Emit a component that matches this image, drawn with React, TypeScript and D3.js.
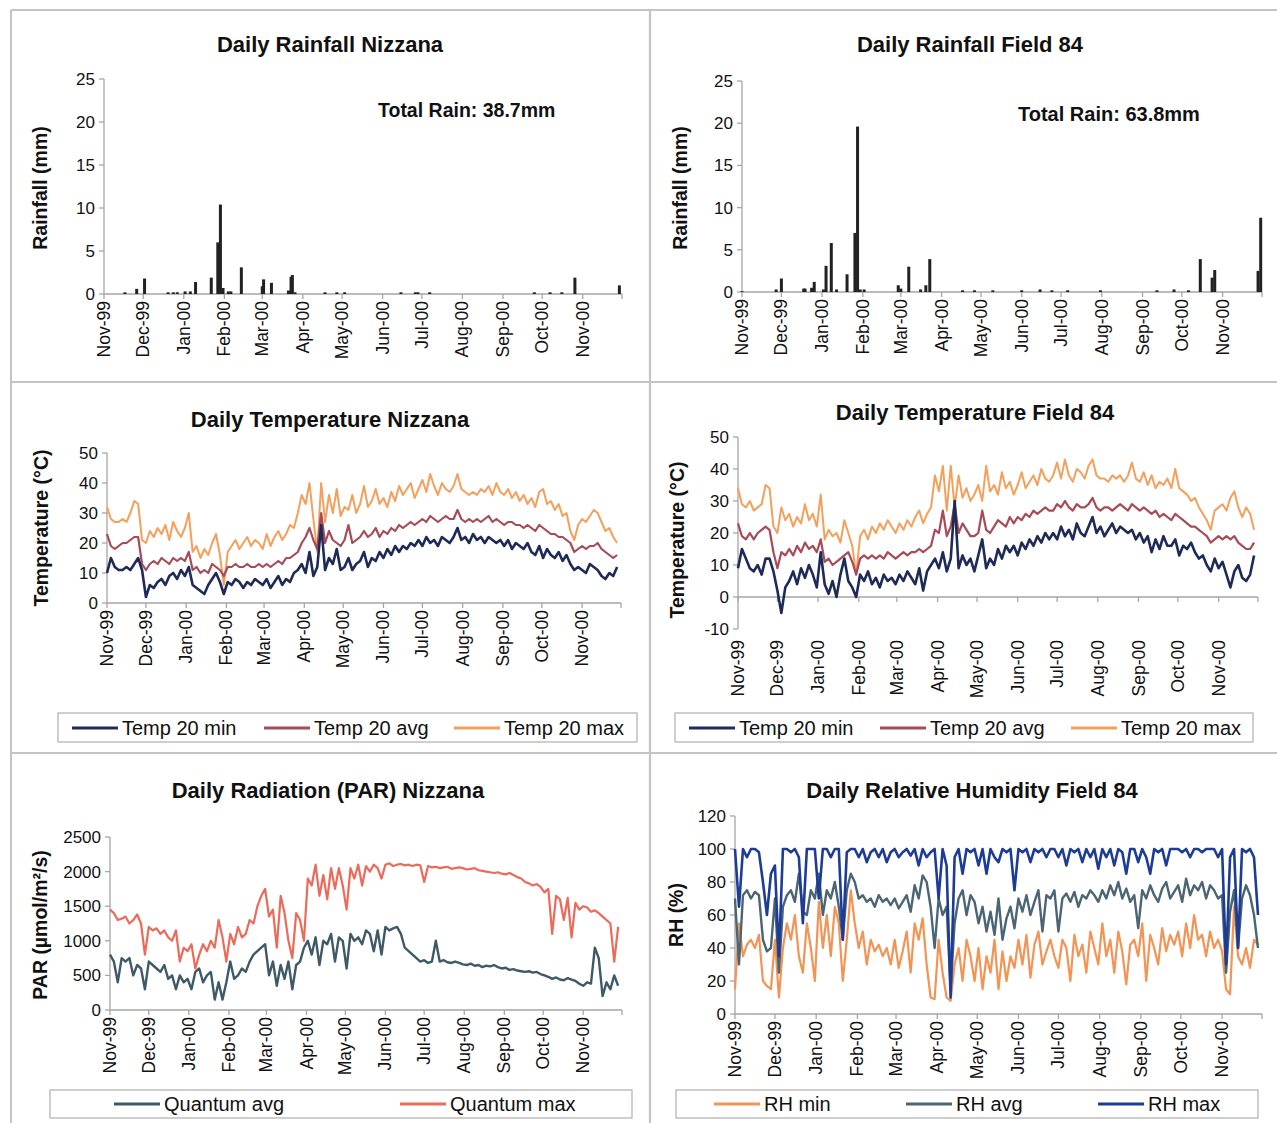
import React, { useEffect } from "react";
import * as d3 from "d3";

// ---------- DATA ----------
const START = new Date(Date.UTC(1999, 10, 1));
const END = new Date(Date.UTC(2000, 11, 1));
const STEP = 3; // days between sampled values

// rainfall events: [day since 1 Nov 1999, mm]
const rainNizzana: [number, number][] = [
  [16, 0.2], [25, 0.6], [31, 1.8], [49, 0.2], [53, 0.2], [56, 0.2], [62, 0.3], [66, 0.3], [70, 1.4],
  [82, 1.9], [87, 6.0], [89, 10.4], [91, 0.7], [95, 0.3], [97, 0.3], [105, 3.1], [121, 0.9], [122, 1.7],
  [128, 1.3], [141, 0.4], [143, 2.0], [144, 2.2], [146, 0.2], [169, 0.2], [178, 0.2], [184, 0.2],
  [227, 0.2], [238, 0.2], [240, 0.2], [249, 0.2], [329, 0.2], [341, 0.2], [350, 0.2], [360, 1.9], [394, 1.0],
];
const rainField84: [number, number][] = [
  [0, 0.1], [26, 0.3], [30, 1.6], [47, 0.4], [48, 0.4], [53, 0.5], [55, 1.2], [62, 0.3], [64, 3.1],
  [68, 5.8], [72, 0.3], [80, 2.1], [86, 7.0], [88, 19.6], [90, 0.3], [93, 0.3], [119, 0.8], [121, 0.4],
  [127, 3.0], [136, 0.3], [140, 0.8], [143, 3.9], [168, 0.2], [177, 0.2], [191, 0.2], [213, 0.2],
  [227, 0.3], [236, 0.2], [248, 0.2], [273, 0.2], [316, 0.2], [329, 0.3], [340, 0.2], [349, 3.9],
  [358, 1.7], [360, 2.6], [393, 2.5], [395, 8.8],
];

// Nizzana temperature (°C), every 3 days
const nizTmax = [
  32, 28, 27, 27, 28, 27, 30, 34, 33, 21,
  20, 24, 22, 25, 23, 26, 21, 27, 24, 22,
  25, 30, 17, 19, 15, 18, 16, 20, 23, 16,
  6, 17, 19, 21, 18, 20, 22, 19, 21, 20,
  18, 23, 19, 22, 24, 21, 23, 26, 25, 30,
  36, 33, 40, 28, 17, 40, 27, 36, 30, 38,
  29, 32, 31, 36, 30, 33, 39, 32, 34, 38,
  33, 35, 32, 37, 34, 39, 36, 38, 40, 35,
  38, 41, 37, 43, 39, 36, 40, 38, 37, 39,
  43, 38, 37, 36, 37, 36, 38, 37, 39, 36,
  40, 37, 36, 38, 35, 37, 34, 36, 33, 35,
  32, 37, 38, 33, 34, 31, 33, 29, 30, 24,
  21, 26, 28, 27, 29, 31, 30, 27, 24, 25,
  22, 20,
];
const nizTavg = [
  23, 19, 18, 19, 20, 20, 21, 22, 22, 13,
  11, 13, 14, 13, 15, 14, 13, 15, 14, 15,
  14, 17, 11, 12, 10, 11, 10, 13, 12, 11,
  9, 12, 12, 13, 12, 12, 13, 12, 12, 13,
  12, 13, 12, 13, 14, 13, 15, 15, 16, 17,
  20, 22, 25, 21, 18, 30, 20, 24, 21, 20,
  19, 21, 26, 20, 21, 22, 24, 22, 23, 25,
  22, 24, 23, 25, 24, 26, 25, 26, 27, 26,
  27, 28, 27, 29, 28, 27, 28, 29, 28, 28,
  31, 28, 27, 28, 27, 28, 27, 28, 29, 27,
  28, 27, 26, 27, 27, 26, 26, 25, 26, 25,
  24, 26, 25, 24, 23, 23, 22, 22, 21, 20,
  17, 18, 19, 18, 19, 19, 20, 18, 17, 16,
  15, 16,
];
const nizTmin = [
  10, 15, 12, 11, 11, 12, 11, 13, 15, 11,
  2, 6, 5, 7, 8, 6, 9, 10, 8, 11,
  9, 12, 6, 5, 4, 3, 6, 8, 10, 7,
  3, 7, 6, 8, 7, 5, 7, 6, 8, 7,
  6, 8, 5, 7, 9, 6, 8, 7, 10, 11,
  13, 10, 17, 9, 12, 26, 11, 15, 13, 18,
  11, 12, 15, 11, 13, 14, 17, 12, 15, 14,
  17, 15, 18, 16, 19, 17, 19, 18, 20, 19,
  21, 19, 22, 20, 21, 19, 22, 21, 20, 22,
  25, 21, 22, 20, 23, 21, 22, 20, 22, 21,
  20, 21, 19, 21, 18, 20, 19, 18, 20, 17,
  16, 19, 15, 18, 16, 15, 17, 14, 16, 13,
  11, 12, 11, 10, 13, 12, 11, 9, 8, 10,
  9, 12,
];

// Field 84 temperature (°C), every 3 days
const f84Tmax = [
  34, 29, 28, 30, 27, 28, 29, 35, 34, 22,
  20, 28, 24, 26, 22, 25, 23, 29, 24, 26,
  22, 32, 18, 21, 19, 20, 17, 24, 20, 16,
  7, 19, 21, 18, 22, 20, 23, 21, 24, 22,
  20, 23, 21, 24, 22, 25, 27, 23, 26, 28,
  38, 33, 41, 27, 41, 28, 38, 31, 34, 30,
  32, 35, 30, 41, 33, 35, 32, 39, 34, 36,
  32, 35, 39, 34, 36, 38, 35, 40, 37, 36,
  38, 42, 37, 43, 38, 36, 40, 39, 37, 41,
  43, 38, 37, 37, 36, 38, 37, 38, 36, 38,
  42, 37, 36, 39, 35, 38, 34, 36, 35, 37,
  34, 40, 34, 33, 32, 30, 31, 28, 26, 24,
  21, 27, 28, 29, 27, 31, 33, 28, 25, 28,
  26, 21,
];
const f84Tavg = [
  23, 19, 18, 20, 18, 20, 21, 22, 21, 14,
  9, 14, 13, 15, 13, 16, 14, 17, 15, 16,
  14, 18, 11, 12, 10, 11, 12, 13, 14, 11,
  7, 12, 13, 12, 13, 12, 13, 12, 14, 13,
  12, 13, 14, 13, 14, 14, 15, 14, 15, 16,
  21, 20, 27, 19, 22, 29, 20, 23, 21, 19,
  19, 20, 27, 21, 20, 22, 24, 23, 22, 25,
  23, 25, 24, 26, 25, 27, 26, 27, 28, 27,
  27, 29, 28, 30, 28, 27, 29, 28, 28, 29,
  31, 28, 27, 28, 28, 27, 28, 29, 28, 27,
  29, 28, 27, 28, 27, 26, 27, 25, 26, 25,
  24, 26, 25, 24, 23, 22, 22, 21, 20, 19,
  17, 18, 19, 18, 19, 18, 19, 17, 16, 15,
  15, 17,
];
const f84Tmin = [
  9, 15, 12, 9, 8, 10, 7, 12, 12, 8,
  2, -5, 3, 5, 8, 4, 9, 6, 10, 7,
  3, 14, 4, 1, 5, 0, 7, 12, 5, 3,
  0, 7, 5, 8, 4, 6, 3, 7, 5, 6,
  4, 7, 5, 8, 6, 4, 9, 2, 8, 10,
  12, 9, 14, 8, 12, 30, 9, 13, 10, 12,
  8, 13, 18, 9, 12, 10, 15, 12, 16, 14,
  16, 13, 17, 15, 18, 16, 19, 17, 20, 18,
  20, 18, 22, 19, 21, 18, 23, 20, 19, 22,
  25, 20, 22, 19, 21, 23, 20, 22, 21, 20,
  21, 18, 20, 17, 19, 14, 18, 15, 19, 16,
  16, 18, 13, 16, 15, 17, 14, 12, 13, 10,
  8, 12, 9, 11, 7, 3, 8, 10, 6, 5,
  7, 13,
];

// PAR Nizzana (µmol/m²/s), every 3 days
const parMax = [
  1450, 1400, 1300, 1320, 1350, 1250, 1300, 1380, 1250, 800,
  1200, 1150, 1180, 1100, 1150, 1050, 1000, 1150, 700, 900,
  850, 950, 600, 800, 950, 850, 1000, 900, 1300, 1050,
  700, 1100, 950, 1200, 1050, 1100, 1300, 1250, 1500, 1650,
  1750, 1350, 1450, 900, 1650, 1400, 1000, 750, 1400, 1300,
  1000, 1900, 1800, 2100, 1650, 1950, 1600, 2050, 1750, 2050,
  1800, 1450, 2050, 1900, 2100, 1800, 2080, 2000, 2100, 2050,
  1900, 2100, 2120, 2080, 2100, 2110, 2090, 2100, 2080, 2100,
  2090, 1850, 2080, 2060, 2070, 2050, 2060, 2070, 2040, 2050,
  2060, 2050, 2030, 2040, 2050, 2020, 2010, 2000, 1990, 1980,
  1990, 1970, 1960, 1980, 1950, 1920, 1900, 1850, 1830, 1800,
  1820, 1780, 1700, 1750, 1100, 1650, 1600, 1300, 1620, 1050,
  1550, 1450, 1500, 1480, 1420, 1440, 1400, 1350, 1300, 1250,
  700, 1200,
];
const parAvg = [
  800, 700, 400, 750, 700, 750, 500, 650, 600, 300,
  700, 650, 600, 550, 650, 450, 500, 300, 500, 400,
  450, 300, 550, 600, 400, 500, 550, 150, 400, 150,
  400, 700, 450, 500, 600, 550, 700, 800, 850, 900,
  950, 500, 700, 350, 650, 450, 700, 300, 650, 700,
  900, 1000, 800, 1050, 650, 1000, 950, 1100, 700, 1050,
  1000, 600, 1100, 1000, 1050, 950, 1150, 1100, 850, 1150,
  800, 1200, 1150, 1180, 1200, 1100, 900, 850, 800, 750,
  700, 720, 680, 700, 1000, 700, 720, 690, 680, 700,
  680, 660, 650, 670, 640, 650, 620, 640, 630, 650,
  620, 600, 610, 580, 590, 570, 560, 550, 560, 540,
  550, 520, 500, 480, 450, 470, 440, 430, 460, 440,
  420, 380, 350, 400, 380, 900, 750, 200, 400, 300,
  500, 350,
];

// Relative humidity Field 84 (%), every 3 days
const rhMax = [
  100, 65, 100, 95, 100, 100, 98, 80, 60, 85,
  90, 35, 100, 100, 98, 100, 95, 55, 100, 100,
  100, 70, 100, 100, 95, 100, 100, 45, 98, 100,
  100, 95, 100, 92, 98, 100, 95, 100, 92, 98,
  100, 95, 98, 100, 96, 100, 90, 100, 95, 98,
  100, 70, 100, 90, 10, 95, 100, 85, 100, 98,
  100, 90, 100, 85, 100, 95, 92, 100, 98, 100,
  75, 100, 98, 100, 92, 100, 98, 100, 95, 100,
  100, 95, 100, 90, 100, 98, 100, 92, 100, 95,
  100, 88, 100, 95, 100, 90, 100, 98, 85, 100,
  100, 92, 100, 95, 85, 100, 98, 100, 90, 100,
  100, 100, 98, 100, 95, 100, 100, 98, 100, 100,
  100, 95, 100, 30, 95, 100, 40, 100, 98, 100,
  95, 60,
];
const rhAvg = [
  70, 30, 72, 75, 70, 74, 72, 45, 38, 40,
  70, 25, 65, 72, 75, 68, 85, 62, 60, 75,
  70, 85, 60, 75, 70, 80, 65, 45, 75, 85,
  80, 70, 72, 68, 70, 65, 72, 68, 70, 66,
  70, 64, 68, 72, 62, 78, 70, 84, 80, 65,
  40, 70, 60, 65, 15, 55, 70, 75, 60, 72,
  68, 55, 65, 50, 62, 48, 70, 45, 58, 65,
  52, 70, 62, 72, 60, 68, 75, 50, 72, 70,
  75, 50, 70, 73, 68, 74, 65, 72, 70, 75,
  72, 68, 75, 70, 78, 72, 80, 70, 76, 68,
  72, 52, 75, 70, 78, 72, 68, 76, 80, 70,
  74, 78, 68, 82, 72, 78, 75, 80, 70, 78,
  75, 70, 72, 25, 62, 75, 40, 70, 78, 72,
  60, 40,
];
const rhMin = [
  15, 55, 35, 42, 45, 40, 48, 20, 17, 15,
  45, 10, 40, 55, 45, 60, 35, 25, 55, 40,
  20, 68, 40, 60, 35, 65, 55, 20, 45, 75,
  55, 40, 50, 30, 45, 38, 42, 35, 40, 30,
  45, 28, 38, 50, 25, 55, 45, 58, 30, 10,
  9, 45, 25, 10, 8, 30, 40, 20, 45, 35,
  20, 40, 15, 35, 25, 45, 15, 38, 20, 35,
  28, 45, 30, 48, 22, 42, 50, 30, 38, 45,
  35, 28, 45, 40, 20, 48, 35, 42, 25, 50,
  40, 30, 55, 35, 45, 25, 50, 38, 18, 42,
  45, 35, 55, 20, 48, 40, 30, 52, 38, 48,
  42, 50, 35, 55, 40, 60, 45, 48, 35, 50,
  40, 45, 38, 15, 12, 65, 35, 30, 40, 28,
  45, 42,
];

const rainTicks = [0, 5, 10, 15, 20, 25];
const tempTicksNiz = [0, 10, 20, 30, 40, 50];
const tempTicksF84 = [-10, 0, 10, 20, 30, 40, 50];
const parTicks = [0, 500, 1000, 1500, 2000, 2500];
const rhTicks = [0, 20, 40, 60, 80, 100, 120];

// ---------- STYLE ----------
const FONT = "'Liberation Sans', Arial, Helvetica, sans-serif";
const AXIS = "#a6a6a6";
const C = {
  tmin: "#1f2b57",
  tavg: "#a54c58",
  tmax: "#f4a05c",
  parAvg: "#3e5a68",
  parMax: "#ec6a5a",
  rhMin: "#f29456",
  rhAvg: "#4b6574",
  rhMax: "#1d3c96",
  bar: "#222222",
};

const TOTAL_DAYS = d3.utcDay.count(START, END);
const MONTHS = d3.utcMonth.range(START, d3.utcDay.offset(END, 1));
const fmt = d3.utcFormat("%b-%y");

type Series = { values: number[]; color: string; width?: number };

interface PanelProps {
  x0: number; x1: number;
  yTop: number; yBot: number;
  domain: [number, number];
  ticks: number[];
  axisAt?: number;
  labelY?: number;
  series?: Series[];
  bars?: [number, number][];
}

function Panel(p: PanelProps) {
  const x = d3.scaleLinear().domain([0, TOTAL_DAYS]).range([p.x0, p.x1]);
  const y = d3.scaleLinear().domain(p.domain).range([p.yBot, p.yTop]);
  const axisY = y(p.axisAt ?? p.domain[0]);
  const labelTop = (p.labelY ?? p.yBot) + 7;
  const line = d3
    .line<number>()
    .x((_, i) => x(i * STEP))
    .y((v) => y(v))
    .curve(d3.curveLinear);
  const barW = 3;
  return (
    <g>
      <line x1={p.x0} x2={p.x0} y1={p.yTop} y2={p.yBot} stroke={AXIS} strokeWidth={1.3} />
      {p.ticks.map((t) => (
        <g key={"yt" + t}>
          <line x1={p.x0 - 5} x2={p.x0} y1={y(t)} y2={y(t)} stroke={AXIS} strokeWidth={1.3} />
          <text x={p.x0 - 9} y={y(t)} dy="0.35em" textAnchor="end" fontSize={17} fill="#111">
            {t}
          </text>
        </g>
      ))}
      <line x1={p.x0} x2={p.x1} y1={axisY} y2={axisY} stroke={AXIS} strokeWidth={1.3} />
      {MONTHS.map((m, i) => {
        const tx = x(d3.utcDay.count(START, m));
        return (
          <g key={"xt" + i}>
            <line x1={tx} x2={tx} y1={axisY} y2={axisY + 5} stroke={AXIS} strokeWidth={1.3} />
            {i < MONTHS.length - 1 && (
              <text
                transform={`translate(${tx + 6},${labelTop}) rotate(-90)`}
                textAnchor="end"
                fontSize={17.5}
                fill="#111"
              >
                {fmt(m)}
              </text>
            )}
          </g>
        );
      })}
      {p.bars &&
        p.bars.map(([d, v], i) => (
          <rect
            key={"b" + i}
            x={x(d) - barW / 2}
            y={y(v)}
            width={barW}
            height={Math.max(0, y(0) - y(v))}
            fill={C.bar}
          />
        ))}
      {p.series &&
        p.series.map((s, i) => (
          <path
            key={"s" + i}
            d={line(s.values) || ""}
            fill="none"
            stroke={s.color}
            strokeWidth={s.width ?? 2.2}
            strokeLinejoin="round"
          />
        ))}
    </g>
  );
}

function Title({ x, y, text }: { x: number; y: number; text: string }) {
  return (
    <text x={x} y={y} textAnchor="middle" fontSize={22} fontWeight="bold" fill="#111">
      {text}
    </text>
  );
}

function YTitle({ x, y, text }: { x: number; y: number; text: string }) {
  return (
    <text
      transform={`translate(${x},${y}) rotate(-90)`}
      textAnchor="middle"
      dominantBaseline="central"
      fontSize={19.5}
      fontWeight="bold"
      fill="#111"
    >
      {text}
    </text>
  );
}

function Legend({
  box, cy, items,
}: {
  box: [number, number, number, number];
  cy: number;
  items: { x: number; label: string; color: string }[];
}) {
  return (
    <g>
      <rect x={box[0]} y={box[1]} width={box[2] - box[0]} height={box[3] - box[1]} fill="#fff" stroke="#b5b5b5" strokeWidth={1.3} />
      {items.map((it) => (
        <g key={it.label}>
          <line x1={it.x} x2={it.x + 46} y1={cy} y2={cy} stroke={it.color} strokeWidth={3} />
          <text x={it.x + 50} y={cy} dy="0.36em" fontSize={20} fill="#111">
            {it.label}
          </text>
        </g>
      ))}
    </g>
  );
}

export default function App() {
  useEffect(() => {
    document.body.style.margin = "0";
  }, []);
  const border = "#c4c4c4";
  return (
    <svg
      width={1277}
      height={1123}
      style={{ position: "absolute", left: 0, top: 0, background: "#fff" }}
      fontFamily={FONT}
    >
      <rect x={0} y={0} width={1277} height={1123} fill="#fff" />
      <line x1={11} x2={11} y1={10} y2={1123} stroke={border} strokeWidth={2} />
      <line x1={11} x2={1277} y1={10} y2={10} stroke={border} strokeWidth={2} />
      <line x1={650} x2={650} y1={10} y2={1123} stroke={border} strokeWidth={2.2} />
      <line x1={11} x2={1277} y1={382} y2={382} stroke={border} strokeWidth={2.2} />
      <line x1={11} x2={1277} y1={753} y2={753} stroke={border} strokeWidth={2.2} />

      <Title x={330} y={52} text="Daily Rainfall Nizzana" />
      <YTitle x={40} y={188} text="Rainfall (mm)" />
      <Panel x0={104} x1={622} yTop={79} yBot={294} domain={[0, 25]} ticks={rainTicks} bars={rainNizzana} />
      <text x={378} y={117} fontSize={19.5} fontWeight="bold" fill="#111">Total Rain: 38.7mm</text>

      <Title x={970} y={52} text="Daily Rainfall Field 84" />
      <YTitle x={680} y={188} text="Rainfall (mm)" />
      <Panel x0={742} x1={1262} yTop={81} yBot={292} domain={[0, 25]} ticks={rainTicks} bars={rainField84} />
      <text x={1018} y={121} fontSize={20} fontWeight="bold" fill="#111">Total Rain: 63.8mm</text>

      <Title x={330} y={427} text="Daily Temperature Nizzana" />
      <YTitle x={41} y={528} text="Temperature (°C)" />
      <Panel
        x0={107} x1={621} yTop={453} yBot={603} domain={[0, 50]} ticks={tempTicksNiz}
        series={[
          { values: nizTmax, color: C.tmax, width: 2 },
          { values: nizTavg, color: C.tavg, width: 2.2 },
          { values: nizTmin, color: C.tmin, width: 2.6 },
        ]}
      />
      <Legend
        box={[58, 713, 637, 742]} cy={728}
        items={[
          { x: 72, label: "Temp 20 min", color: C.tmin },
          { x: 264, label: "Temp 20 avg", color: C.tavg },
          { x: 454, label: "Temp 20 max", color: C.tmax },
        ]}
      />

      <Title x={975} y={420} text="Daily Temperature Field 84" />
      <YTitle x={677} y={540} text="Temperature (°C)" />
      <Panel
        x0={738} x1={1258} yTop={437} yBot={629} domain={[-10, 50]} ticks={tempTicksF84}
        axisAt={0} labelY={633}
        series={[
          { values: f84Tmax, color: C.tmax, width: 2 },
          { values: f84Tavg, color: C.tavg, width: 2.2 },
          { values: f84Tmin, color: C.tmin, width: 2.6 },
        ]}
      />
      <Legend
        box={[675, 713, 1253, 742]} cy={728}
        items={[
          { x: 689, label: "Temp 20 min", color: C.tmin },
          { x: 880, label: "Temp 20 avg", color: C.tavg },
          { x: 1071, label: "Temp 20 max", color: C.tmax },
        ]}
      />

      <Title x={328} y={798} text="Daily Radiation (PAR) Nizzana" />
      <YTitle x={40} y={925} text="PAR (µmol/m²/s)" />
      <Panel
        x0={110} x1={622} yTop={837} yBot={1010} domain={[0, 2500]} ticks={parTicks}
        series={[
          { values: parMax, color: C.parMax, width: 2.2 },
          { values: parAvg, color: C.parAvg, width: 2.4 },
        ]}
      />
      <Legend
        box={[50, 1090, 632, 1118]} cy={1104}
        items={[
          { x: 114, label: "Quantum avg", color: C.parAvg },
          { x: 400, label: "Quantum max", color: C.parMax },
        ]}
      />

      <Title x={972} y={798} text="Daily Relative Humidity Field 84" />
      <YTitle x={676} y={915} text="RH (%)" />
      <Panel
        x0={735} x1={1262} yTop={816} yBot={1014} domain={[0, 120]} ticks={rhTicks}
        series={[
          { values: rhMin, color: C.rhMin, width: 2.2 },
          { values: rhAvg, color: C.rhAvg, width: 2.4 },
          { values: rhMax, color: C.rhMax, width: 2.6 },
        ]}
      />
      <Legend
        box={[676, 1090, 1258, 1118]} cy={1104}
        items={[
          { x: 714, label: "RH min", color: C.rhMin },
          { x: 906, label: "RH avg", color: C.rhAvg },
          { x: 1098, label: "RH max", color: C.rhMax },
        ]}
      />
    </svg>
  );
}
